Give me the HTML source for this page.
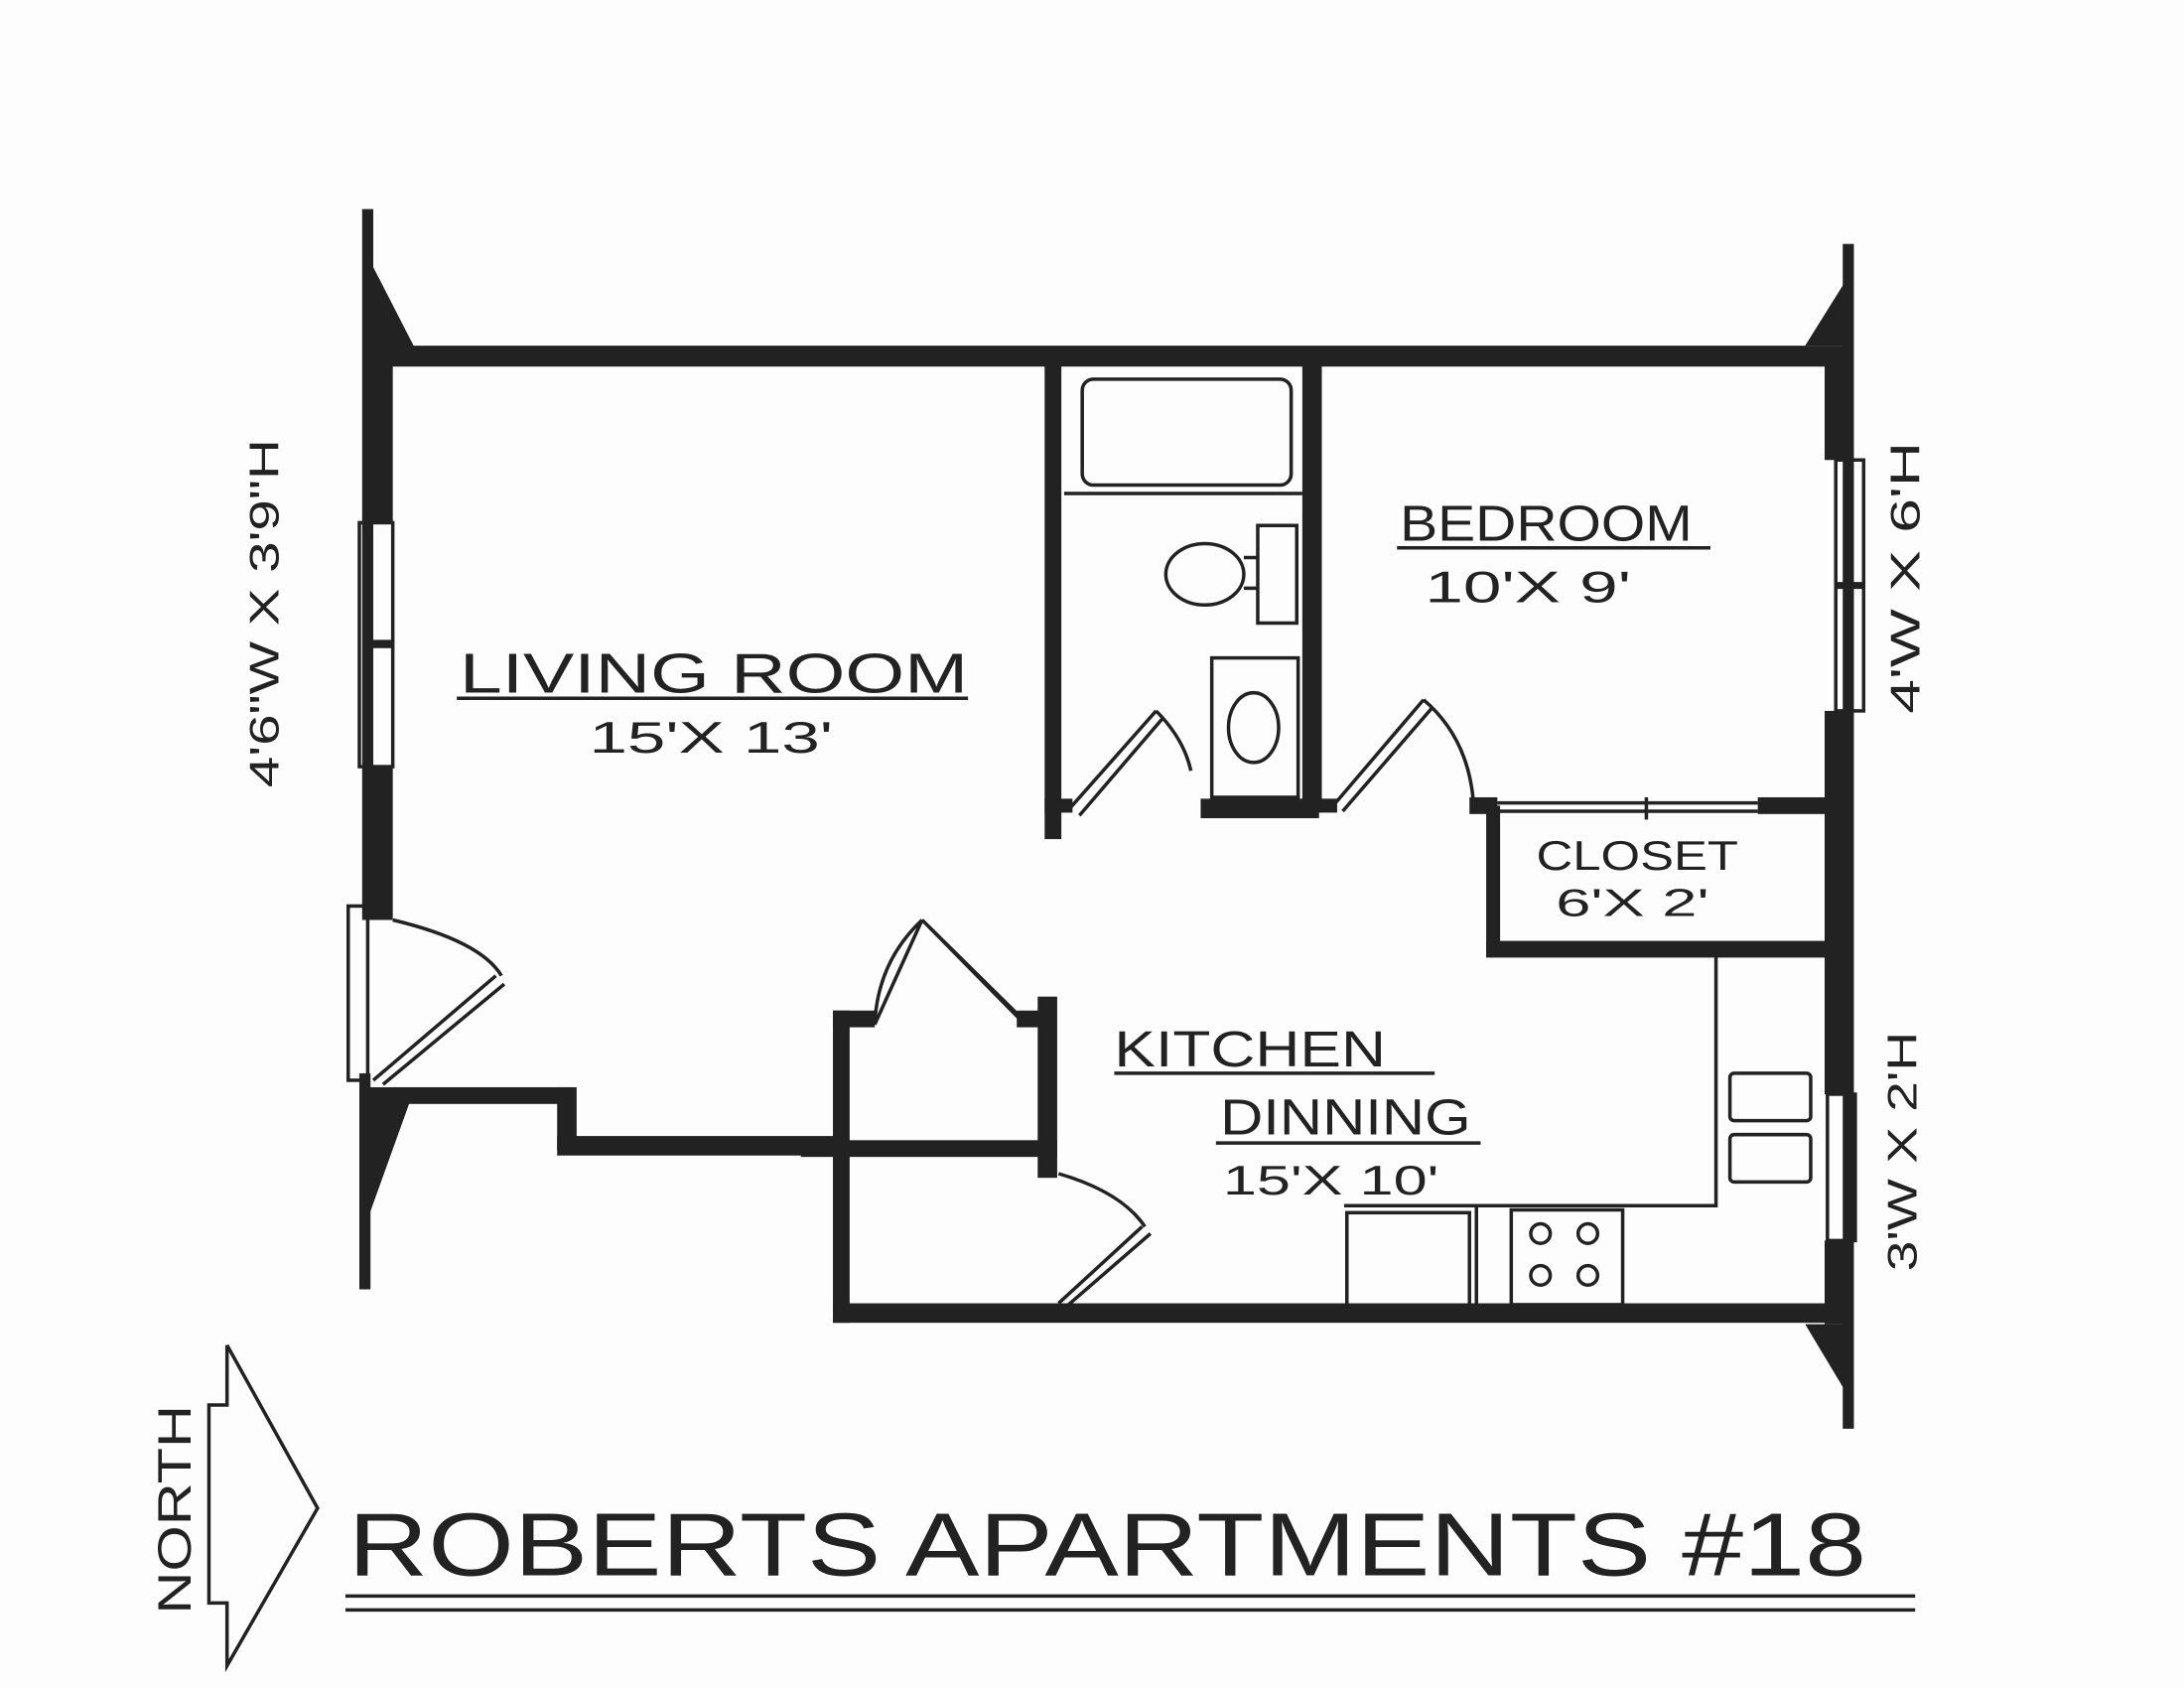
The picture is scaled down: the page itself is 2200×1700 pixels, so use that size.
<!DOCTYPE html>
<html><head><style>
html,body{margin:0;padding:0;background:#fdfdfd;}
svg{display:block;}
text{font-family:"Liberation Sans",sans-serif;fill:#222;}
</style></head><body>
<svg width="2200" height="1700" viewBox="0 0 1568 1211" preserveAspectRatio="none" xmlns="http://www.w3.org/2000/svg">
<rect width="1568" height="1211" fill="#fdfdfd"/>
<g fill="#222" stroke="none">
<rect x="262" y="248" width="1064" height="15"/>
<rect x="260" y="150" width="8" height="510"/>
<polygon points="262,180 298,250 262,250"/>
<rect x="262" y="250" width="20" height="125"/>
<rect x="262" y="550" width="20" height="110"/>
<rect x="258" y="770" width="8" height="155"/>
<polygon points="262,780 298,780 262,880"/>
<rect x="1323" y="175" width="8" height="850"/>
<polygon points="1326,200 1296,248 1326,248"/>
<rect x="1310" y="255" width="20" height="75"/>
<rect x="1310" y="510" width="20" height="275"/>
<rect x="1310" y="890" width="20" height="60"/>
<polygon points="1326,1000 1296,950 1326,950"/>
<rect x="598" y="935" width="730" height="14"/>
<rect x="598" y="725" width="12" height="224"/>
<rect x="598" y="725" width="30" height="12"/>
<rect x="745" y="715" width="14" height="130"/>
<rect x="730" y="725" width="25" height="12"/>
<rect x="598" y="818" width="161" height="12"/>
<rect x="575" y="818" width="35" height="12"/>
<rect x="262" y="780" width="150" height="12"/>
<rect x="400" y="780" width="14" height="45"/>
<rect x="400" y="815" width="200" height="14"/>
<rect x="750" y="262" width="12" height="340"/>
<rect x="935" y="262" width="14" height="320"/>
<rect x="862" y="573" width="85" height="14"/>
<rect x="750" y="573" width="20" height="10"/>
<rect x="945" y="573" width="15" height="10"/>
<rect x="1055" y="572" width="20" height="12"/>
<rect x="1262" y="572" width="55" height="12"/>
<rect x="1067" y="578" width="10" height="108"/>
<rect x="1067" y="675" width="250" height="12"/>
</g>
<g fill="none" stroke="#222" stroke-width="2.5">
<rect x="258" y="375" width="24" height="175"/><line x1="262" y1="462" x2="282" y2="462" stroke-width="6"/>
<rect x="1318" y="330" width="20" height="180"/><line x1="1318" y1="420" x2="1338" y2="420" stroke-width="5"/>
<rect x="1312" y="785" width="20" height="105"/>
<rect x="777" y="272" width="150" height="76" rx="8"/>
<line x1="764" y1="354" x2="935" y2="354"/>
<ellipse cx="865" cy="412" rx="28" ry="22"/>
<rect x="903" y="377" width="28" height="70"/>
<line x1="893" y1="400" x2="903" y2="400"/><line x1="893" y1="422" x2="903" y2="422"/>
<rect x="870" y="472" width="62" height="100"/>
<ellipse cx="900" cy="522" rx="18" ry="25"/>
<line x1="768" y1="580" x2="830" y2="510"/><line x1="775" y1="585" x2="835" y2="515"/>
<path d="M830,510 Q850,530 855,553"/>
<line x1="958" y1="577" x2="1022" y2="502"/><line x1="964" y1="582" x2="1028" y2="508"/>
<path d="M1022,502 Q1055,530 1058,578"/>
<line x1="1075" y1="576" x2="1262" y2="576"/><line x1="1075" y1="582" x2="1262" y2="582"/>
<line x1="1182" y1="572" x2="1182" y2="588"/>
<rect x="250" y="650" width="14" height="125"/>
<line x1="268" y1="775" x2="356" y2="700"/><line x1="275" y1="778" x2="362" y2="706"/>
<path d="M282,660 Q345,675 360,700"/>
<line x1="628" y1="735" x2="662" y2="660"/><line x1="662" y1="660" x2="733" y2="730"/><line x1="667" y1="665" x2="736" y2="735"/>
<path d="M628,735 Q630,690 662,660"/>
<line x1="760" y1="935" x2="820" y2="880"/><line x1="766" y1="937" x2="826" y2="885"/>
<path d="M760,842 Q805,855 822,880"/>
<polyline points="965,865 1232,865 1232,682"/>
<rect x="1242" y="770" width="58" height="34" rx="3"/>
<rect x="1242" y="814" width="58" height="34" rx="3"/>
<rect x="967" y="870" width="88" height="68"/>
<line x1="1060" y1="865" x2="1060" y2="938"/>
<rect x="1085" y="868" width="80" height="68"/>
<circle cx="1106" cy="885" r="7"/><circle cx="1140" cy="885" r="7"/>
<circle cx="1106" cy="915" r="7"/><circle cx="1140" cy="915" r="7"/>
<line x1="328" y1="501" x2="695" y2="501"/>
<line x1="1003" y1="393" x2="1228" y2="393"/>
<line x1="800" y1="770" x2="1030" y2="770"/>
<line x1="873" y1="820" x2="1063" y2="820"/>
<line x1="248" y1="1145" x2="1375" y2="1145"/>
<line x1="248" y1="1155" x2="1375" y2="1155"/>
<polyline points="163,965 163,1008 150,1008 150,1150 163,1150 163,1195 228,1082 163,965"/>
</g>
<g>
<text x="330" y="497" font-size="40" textLength="365" lengthAdjust="spacingAndGlyphs">LIVING ROOM</text>
<text x="423" y="540" font-size="32" textLength="175" lengthAdjust="spacingAndGlyphs">15'X 13'</text>
<text x="1005" y="388" font-size="36" textLength="210" lengthAdjust="spacingAndGlyphs">BEDROOM</text>
<text x="1023" y="432" font-size="32" textLength="148" lengthAdjust="spacingAndGlyphs">10'X 9'</text>
<text x="1103" y="624" font-size="30" textLength="145" lengthAdjust="spacingAndGlyphs">CLOSET</text>
<text x="1117" y="657" font-size="28" textLength="110" lengthAdjust="spacingAndGlyphs">6'X 2'</text>
<text x="800" y="765" font-size="36" textLength="195" lengthAdjust="spacingAndGlyphs">KITCHEN</text>
<text x="876" y="814" font-size="36" textLength="180" lengthAdjust="spacingAndGlyphs">DINNING</text>
<text x="878" y="857" font-size="30" textLength="155" lengthAdjust="spacingAndGlyphs">15'X 10'</text>
<text x="250" y="1130" font-size="64" textLength="1090" lengthAdjust="spacingAndGlyphs">ROBERTS  APARTMENTS  #18</text>
<text transform="translate(137,1158) rotate(-90)" font-size="34" textLength="150" lengthAdjust="spacingAndGlyphs">NORTH</text>
<text transform="translate(200,565) rotate(-90)" font-size="30" textLength="250" lengthAdjust="spacingAndGlyphs">4'6"W X 3'9"H</text>
<text transform="translate(1378,512) rotate(-90)" font-size="30" textLength="195" lengthAdjust="spacingAndGlyphs">4'W X 6'H</text>
<text transform="translate(1376,912) rotate(-90)" font-size="30" textLength="172" lengthAdjust="spacingAndGlyphs">3'W X 2'H</text>
</g>
</svg>
</body></html>
